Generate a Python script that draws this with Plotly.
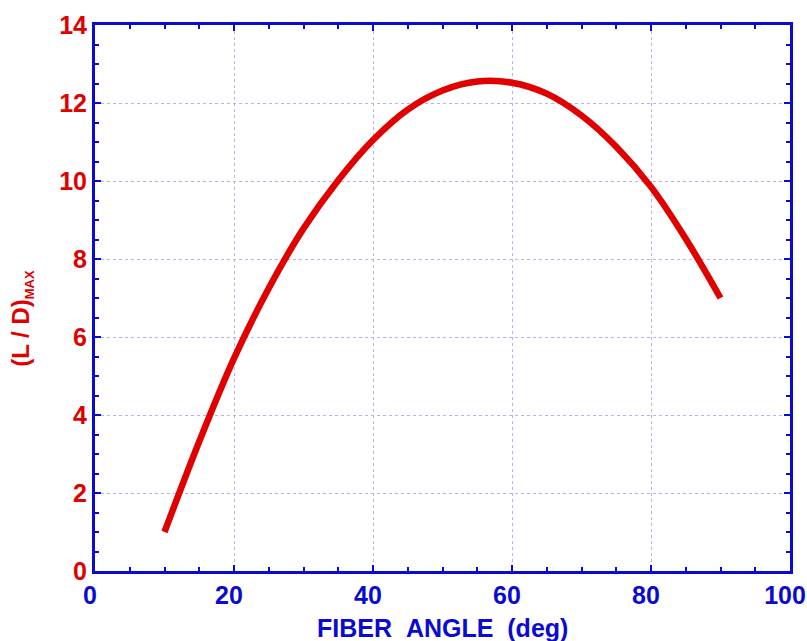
import plotly.graph_objects as go

fiber_angle = [10, 15, 20, 25, 30, 35, 40, 45, 50, 55, 60, 65, 70, 75, 80, 85, 90]
ld_max = [1.00, 3.32, 5.45, 7.25, 8.78, 10.02, 11.05, 11.83, 12.32, 12.55, 12.52, 12.24, 11.68, 10.88, 9.85, 8.52, 7.00]

x_ticks = [0, 20, 40, 60, 80, 100]
y_ticks = [0, 2, 4, 6, 8, 10, 12, 14]

BLUE = "#0a0ad2"
RED = "#e00000"
GRID = "#b4b4ea"
FONT = "Liberation Sans, Arial, sans-serif"

fig = go.Figure()
fig.add_trace(go.Scatter(x=fiber_angle, y=ld_max, mode="lines",
                         line=dict(color=RED, width=6.5, shape="spline", smoothing=1.0),
                         showlegend=False, hoverinfo="skip"))

axis_common = dict(
    showline=True, linecolor=BLUE, linewidth=3, mirror="ticks",
    ticks="inside", ticklen=6, tickwidth=2, tickcolor=BLUE,
    showgrid=True, gridcolor=GRID, griddash="dot", gridwidth=1,
    zeroline=False, automargin=False,
)

fig.update_xaxes(range=[0, 100], tickvals=x_ticks, ticklabelshift=-5,
                 ticklabeloverflow="allow",
                 tickfont=dict(family=FONT, size=25, color=BLUE, weight="bold"),
                 minor=dict(ticks="inside", dtick=5, tick0=0, ticklen=4, tickwidth=2,
                            tickcolor=BLUE, showgrid=False),
                 **axis_common)
fig.update_yaxes(range=[0, 14], tickvals=y_ticks,
                 ticklabeloverflow="allow",
                 tickfont=dict(family=FONT, size=25, color=RED, weight="bold"),
                 minor=dict(ticks="inside", dtick=0.5, tick0=0, ticklen=4, tickwidth=2,
                            tickcolor=BLUE, showgrid=False),
                 **axis_common)

fig.add_annotation(xref="paper", yref="paper", x=0.5, y=-0.1035,
                   xanchor="center", yanchor="middle", showarrow=False,
                   text="<b>FIBER\u00a0\u00a0ANGLE\u00a0\u00a0(deg)</b>",
                   font=dict(family=FONT, size=25, color=BLUE))
fig.add_annotation(xref="paper", yref="paper", x=-0.105, y=0.462,
                   xanchor="center", yanchor="middle", showarrow=False, textangle=-90,
                   text="<b>(L / D)<sub><span style='font-size:13px'>MAX</span></sub></b>",
                   font=dict(family=FONT, size=24, color=RED))

fig.update_layout(width=807, height=641,
                  margin=dict(l=95, r=17, t=25, b=70),
                  plot_bgcolor="white", paper_bgcolor="white")

fig.write_html("out.html")
